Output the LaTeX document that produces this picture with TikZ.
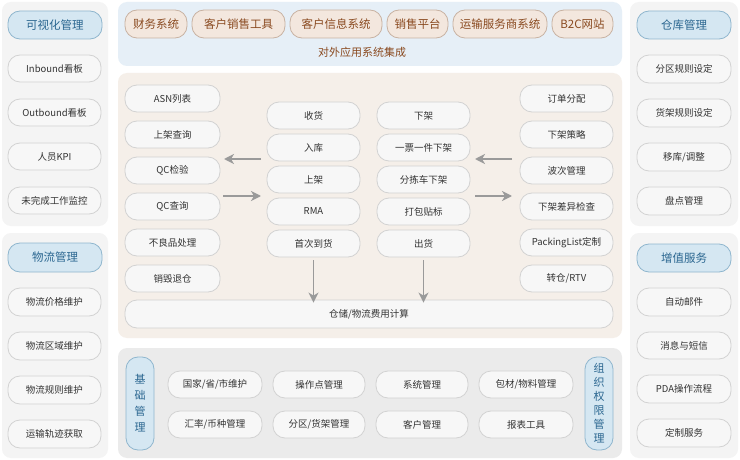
\documentclass[tikz,border=0pt]{standalone}
\usepackage{fontspec}
\setmainfont{Noto Sans CJK SC}
\usetikzlibrary{arrows.meta}
\definecolor{sidebg}{HTML}{F4F4F4}
\definecolor{topbg}{HTML}{E6EFF7}
\definecolor{midbg}{HTML}{F5EFE9}
\definecolor{botbg}{HTML}{EBEBEB}
\definecolor{itemfill}{HTML}{F7F7F7}
\definecolor{itemdraw}{HTML}{D2D2D2}
\definecolor{itemtext}{HTML}{333333}
\definecolor{hdfill}{HTML}{D5E7F2}
\definecolor{hddraw}{HTML}{8FB6CE}
\definecolor{hdtext}{HTML}{2A6690}
\definecolor{sysfill}{HTML}{F3E7DE}
\definecolor{sysdraw}{HTML}{C8B2A2}
\definecolor{systext}{HTML}{8A4A20}
\definecolor{arrowc}{HTML}{9A9A9A}
\newcommand{\pbox}[7]{\node[#1, minimum width={#4-#2}, minimum height={#5-#3}] (#6) at ({(#2+#4)/2},{(#3+#5)/2}) {#7};}
\tikzset{
  base/.style={rounded corners=12pt, inner sep=0pt, line width=0.8pt},
  item/.style={base, fill=itemfill, draw=itemdraw, text=itemtext, font=\fontsize{9.5}{11}\selectfont},
  head/.style={base, fill=hdfill, draw=hddraw, text=hdtext, font=\fontsize{11.5}{13}\selectfont},
  vhead/.style={base, fill=hdfill, draw=hddraw, text=hdtext, align=center},
  sys/.style={base, fill=sysfill, draw=sysdraw, text=systext, font=\fontsize{11.5}{13}\selectfont},
  panel/.style={rounded corners=9pt},
  arr/.style={draw=arrowc, line width=1.7pt, -{Stealth[length=10pt,width=10pt,inset=3pt]}}
}
\begin{document}
\begin{tikzpicture}[x=1pt,y=-1pt]
\useasboundingbox[fill=white] (0,0) rectangle (740,460);
% panels
\fill[sidebg, panel] (2,2) rectangle (108,226);
\fill[sidebg, panel] (2,233) rectangle (108,458);
\fill[sidebg, panel] (630,2) rectangle (738,226);
\fill[sidebg, panel] (630,233) rectangle (738,458);
\fill[topbg, panel] (118,2) rectangle (622,66);
\fill[midbg, panel] (118,73) rectangle (622,338);
\fill[botbg, panel] (118,348) rectangle (622,458);
% left side
\pbox{head}{8}{11}{102}{39}{vh}{可视化管理}
\pbox{item}{8}{55}{101}{82}{l1}{Inbound看板}
\pbox{item}{8}{99}{101}{126}{l2}{Outbound看板}
\pbox{item}{8}{143}{101}{170}{l3}{人员KPI}
\pbox{item}{8}{187}{101}{214}{l4}{未完成工作监控}
\pbox{head}{8}{243}{102}{272}{wh}{物流管理}
\pbox{item}{8}{288}{101}{316}{w1}{物流价格维护}
\pbox{item}{8}{332}{101}{360}{w2}{物流区域维护}
\pbox{item}{8}{376}{101}{404}{w3}{物流规则维护}
\pbox{item}{8}{420}{101}{448}{w4}{运输轨迹获取}
% right side
\pbox{head}{637}{11}{731}{39}{ch}{仓库管理}
\pbox{item}{637}{55}{731}{83}{c1}{分区规则设定}
\pbox{item}{637}{99}{731}{127}{c2}{货架规则设定}
\pbox{item}{637}{143}{731}{171}{c3}{移库/调整}
\pbox{item}{637}{187}{731}{215}{c4}{盘点管理}
\pbox{head}{637}{244}{731}{272}{zh}{增值服务}
\pbox{item}{637}{288}{731}{316}{z1}{自动邮件}
\pbox{item}{637}{332}{731}{359}{z2}{消息与短信}
\pbox{item}{637}{375}{731}{403}{z3}{PDA操作流程}
\pbox{item}{637}{419}{731}{447}{z4}{定制服务}
% top systems
\pbox{sys}{125}{10}{187}{38}{s1}{财务系统}
\pbox{sys}{192}{10}{285}{38}{s2}{客户销售工具}
\pbox{sys}{290}{10}{382}{38}{s3}{客户信息系统}
\pbox{sys}{387}{10}{448}{38}{s4}{销售平台}
\pbox{sys}{453}{10}{547}{38}{s5}{运输服务商系统}
\pbox{sys}{552}{10}{613}{38}{s6}{B2C网站}
\node[text=systext, font=\fontsize{11}{13}\selectfont] (slab) at (362,52) {对外应用系统集成};
% middle left column
\pbox{item}{125}{85}{220}{112}{a1}{ASN列表}
\pbox{item}{125}{121}{220}{148}{a2}{上架查询}
\pbox{item}{125}{157}{220}{184}{a3}{QC检验}
\pbox{item}{125}{193}{220}{220}{a4}{QC查询}
\pbox{item}{125}{229}{220}{256}{a5}{不良品处理}
\pbox{item}{125}{265}{220}{292}{a6}{销毁退仓}
% center-left column
\pbox{item}{267}{102}{360}{129}{b1}{收货}
\pbox{item}{267}{134}{360}{161}{b2}{入库}
\pbox{item}{267}{166}{360}{193}{b3}{上架}
\pbox{item}{267}{198}{360}{225}{b4}{RMA}
\pbox{item}{267}{230}{360}{257}{b5}{首次到货}
% center-right column
\pbox{item}{377}{102}{470}{129}{d1}{下架}
\pbox{item}{377}{134}{470}{161}{d2}{一票一件下架}
\pbox{item}{377}{166}{470}{193}{d3}{分拣车下架}
\pbox{item}{377}{198}{470}{225}{d4}{打包贴标}
\pbox{item}{377}{230}{470}{257}{d5}{出货}
% right column
\pbox{item}{520}{85}{613}{112}{e1}{订单分配}
\pbox{item}{520}{121}{613}{148}{e2}{下架策略}
\pbox{item}{520}{157}{613}{184}{e3}{波次管理}
\pbox{item}{520}{193}{613}{220}{e4}{下架差异检查}
\pbox{item}{520}{229}{613}{256}{e5}{PackingList定制}
\pbox{item}{520}{265}{613}{292}{e6}{转仓/RTV}
% fee bar
\pbox{item}{125}{300}{613}{328}{fee}{仓储/物流费用计算}
% arrows
\coordinate (p1) at (261,159);
\coordinate (p2) at (224,159);
\coordinate (p3) at (223,196);
\coordinate (p4) at (261,196);
\coordinate (q1) at (512,159);
\coordinate (q2) at (475,159);
\coordinate (q3) at (475,196);
\coordinate (q4) at (512,196);
\draw[arr] (p1) -- (p2);
\draw[arr] (p3) -- (p4);
\draw[arr] (q1) -- (q2);
\draw[arr] (q3) -- (q4);
\draw[arr] ([yshift=-3pt]b5.south) -- ([yshift=-3pt]b5.south |- fee.north);
\draw[arr] ([yshift=-3pt]d5.south) -- ([yshift=-3pt]d5.south |- fee.north);
% bottom panel
\pbox{vhead, font=\fontsize{11}{16}\selectfont}{126}{357}{154}{450}{jc}{基\\础\\管\\理}
\pbox{vhead, font=\fontsize{11}{14}\selectfont}{585}{357}{613}{450}{zz}{组\\织\\权\\限\\管\\理}
\pbox{item}{168}{371}{262}{398}{f1}{国家/省/市维护}
\pbox{item}{273}{371}{365}{398}{f2}{操作点管理}
\pbox{item}{376}{371}{468}{398}{f3}{系统管理}
\pbox{item}{479}{371}{573}{398}{f4}{包材/物料管理}
\pbox{item}{168}{411}{262}{438}{g1}{汇率/币种管理}
\pbox{item}{273}{411}{365}{438}{g2}{分区/货架管理}
\pbox{item}{376}{411}{468}{438}{g3}{客户管理}
\pbox{item}{479}{411}{573}{438}{g4}{报表工具}
\end{tikzpicture}
\end{document}
